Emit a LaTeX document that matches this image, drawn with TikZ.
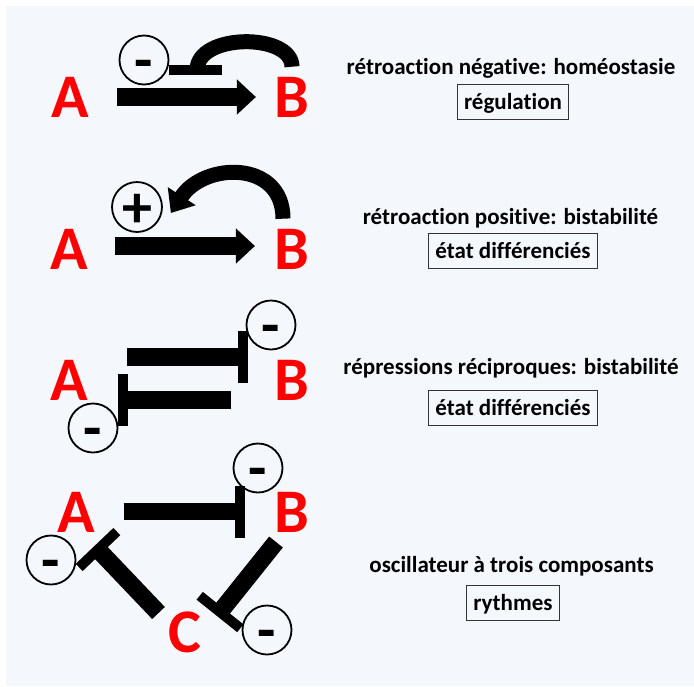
\documentclass[tikz,border=0pt]{standalone}
\usepackage{fontspec}
\setmainfont{Carlito}[Ligatures=NoCommon]
\usetikzlibrary{arrows.meta,calc}
\definecolor{fond}{HTML}{F4F7FC}

\tikzset{
  gene/.style={text=red, inner sep=0pt, font=\fontsize{62}{62}\selectfont\bfseries},
  signe/.style={circle, draw, line width=1.8pt, minimum size=49pt, inner sep=0pt,
    text height=40pt, text depth=0pt, font=\fontsize{60}{60}\selectfont\bfseries},
  titre/.style={inner sep=0pt, anchor=base, font=\fontsize{23}{23}\selectfont\bfseries},
  cadre/.style={draw=black!80, line width=0.9pt, inner xsep=7pt, inner ysep=8pt,
    text height=17pt, text depth=2pt, font=\fontsize{23}{23}\selectfont\bfseries},
  active/.style={line width=18pt, -{Triangle[length=19pt,width=34pt]}},
  repr/.style={line width=17.5pt},
  barre/.style={line width=10pt},
}

\begin{document}
\begin{tikzpicture}[x=1pt,y=-1pt]
    \fill[fond] (6,6) rectangle (694,686);
    \useasboundingbox (0,0) rectangle (694,686);

    % retroaction negative
    \node[gene] (A1) at (70,97) {A};
    \node[gene] (B1) at (292,97) {B};
    \node[signe] (m1) at (144,60) {-};
    \draw[active, shorten <=28.5pt, shorten >=18.5pt] (A1) -- (B1);
    \coordinate (t1) at (197,70);
    \draw[line width=15pt] ([yshift=10pt]B1.north) .. controls +(0,-34) and +(0,-37) .. (t1);
    \draw[barre] ([xshift=-28pt]t1) -- ([xshift=25pt]t1);

    % retroaction positive
    \node[gene] (A2) at (69,249) {A};
    \node[gene] (B2) at (292,249) {B};
    \node[signe] (p2) at (137,207) {+};
    \draw[active, shorten <=27.5pt, shorten >=19.5pt] ([yshift=3pt]A2.east) -- ([yshift=3pt]B2.west);
    \draw[line width=15pt, -{Triangle[length=20pt,width=32pt]}]
        ([xshift=-9pt,yshift=10pt]B2.north) .. controls +(0,-59) and +(33,-51) .. ([xshift=8pt,yshift=-6pt]p2.east);

    % repressions reciproques
    \node[gene] (A3) at (69,380) {A};
    \node[gene] (B3) at (292,380) {B};
    \node[signe] (m3a) at (271,325) {-};
    \node[signe] (m3b) at (93,428) {-};
    \coordinate (s3a) at (127,357);
    \coordinate (t3a) at (243,357);
    \coordinate (s3b) at (231,400);
    \coordinate (t3b) at (122.5,400);
    \draw[repr] (s3a) -- (t3a);
    \draw[barre] ($(t3a)!26pt!90:(s3a)$) -- ($(t3a)!26pt!-90:(s3a)$);
    \draw[repr] (s3b) -- (t3b);
    \draw[barre] ($(t3b)!26pt!90:(s3b)$) -- ($(t3b)!26pt!-90:(s3b)$);

    % oscillateur
    \node[gene] (A4) at (76,512) {A};
    \node[gene] (B4) at (292,512) {B};
    \node[gene] (C4) at (185,632) {C};
    \node[signe] (m4a) at (258,468) {-};
    \node[signe] (m4c) at (51,560) {-};
    \node[signe] (m4b) at (267,630) {-};
    \coordinate (s4a) at (124,511.5);
    \coordinate (t4a) at (240,511.5);
    \coordinate (s4c) at (158.5,613);
    \coordinate (t4c) at (98,549.5);
    \coordinate (s4b) at (276,542);
    \coordinate (t4b) at (220,612);
    \draw[repr] (s4a) -- (t4a);
    \draw[barre] ($(t4a)!26pt!90:(s4a)$) -- ($(t4a)!26pt!-90:(s4a)$);
    \draw[repr] (s4c) -- (t4c);
    \draw[barre] ($(t4c)!26pt!90:(s4c)$) -- ($(t4c)!26pt!-90:(s4c)$);
    \draw[repr] (s4b) -- (t4b);
    \draw[barre] ($(t4b)!26pt!90:(s4b)$) -- ($(t4b)!26pt!-90:(s4b)$);

    % textes
    \node[titre] (T1) at (511,74) {rétroaction négative: homéostasie};
    \node[cadre] (R1) at (513,101.5) {régulation};
    \node[titre] (T2) at (510.5,224) {rétroaction positive: bistabilité};
    \node[cadre] (R2) at (513,251) {état différenciés};
    \node[titre] (T3) at (511,374) {répressions réciproques: bistabilité};
    \node[cadre] (R3) at (513,407.5) {état différenciés};
    \node[titre] (T4) at (511.5,572) {oscillateur à trois composants};
    \node[cadre] (R4) at (513,602.5) {rythmes};
\end{tikzpicture}
\end{document}
